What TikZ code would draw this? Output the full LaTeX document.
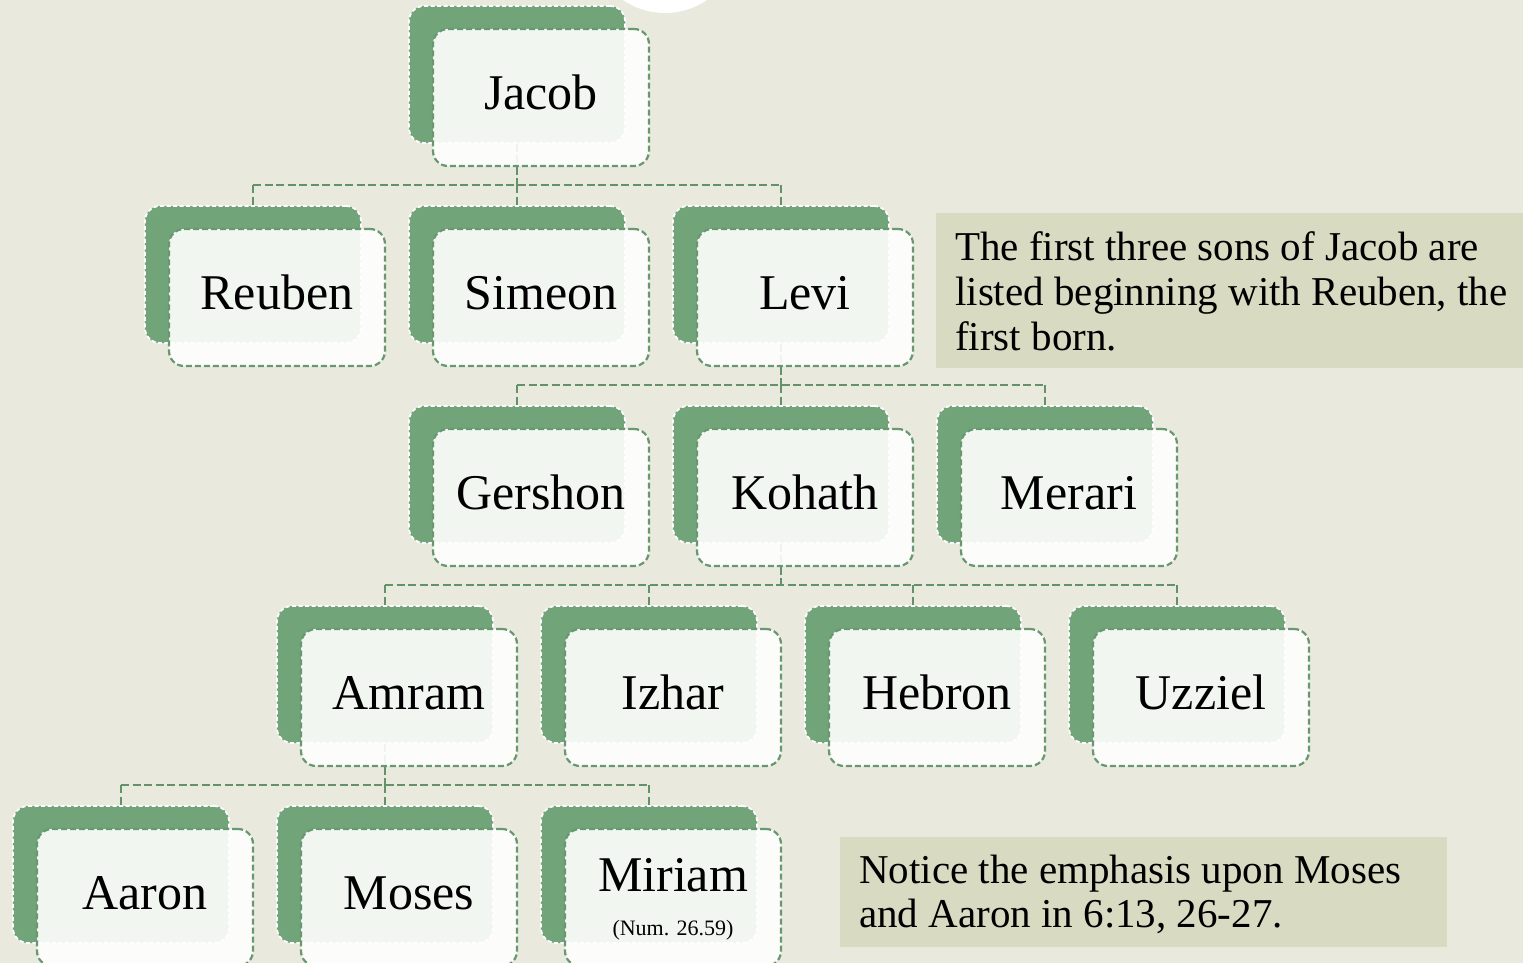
\documentclass[tikz,border=0pt]{standalone}
\usepackage{fontspec}
\setmainfont{Liberation Serif}
\pgfdeclarelayer{backlayer}
\pgfdeclarelayer{linklayer}
\pgfsetlayers{backlayer,linklayer,main}
\definecolor{bgc}{RGB}{233,233,222}
\definecolor{leaf}{RGB}{114,164,122}
\definecolor{edgec}{RGB}{104,152,112}
\definecolor{connc}{RGB}{98,145,106}
\definecolor{notec}{RGB}{216,219,194}
\newcommand\member[4]{%
  \node[backbox] (b#1) at (#2+108,#3+68.5) {};
  \node[frontbox] (#1) at (#2+132,#3+91.5) {#4};}
\begin{document}
\begin{tikzpicture}[x=1pt,y=-1pt,
  backbox/.style={draw=white, line width=1.8pt, dash pattern=on 4pt off 2.5pt,
    fill=leaf, rounded corners=15pt, minimum width=216pt, minimum height=137pt,
    inner sep=0pt},
  frontbox/.style={draw=edgec, line width=2.2pt, dash pattern=on 6pt off 3pt,
    fill=white, fill opacity=0.9, text opacity=1, rounded corners=15pt,
    minimum width=216pt, minimum height=137pt, inner sep=0pt,
    font=\fontsize{50}{60}\selectfont, text height=35pt, text depth=11pt},
  link/.style={draw=connc, line width=2.6pt, dash pattern=on 8pt off 3.5pt},
  notebox/.style={fill=notec, inner sep=0pt, anchor=north west},
  notetext/.style={font=\fontsize{41}{45}\selectfont, align=left, inner sep=0pt, anchor=west}]
\useasboundingbox (0,0) rectangle (1523,963);
\begin{pgfonlayer}{backlayer}
  \fill[bgc] (0,0) rectangle (1523,963);
  \begin{scope}
    \clip (0,0) rectangle (1523,963);
    \fill[white] (665,-61) circle[radius=74pt];
  \end{scope}
\end{pgfonlayer}

% row 1
\member{jacob}{409}{6}{Jacob}
% row 2
\member{reuben}{145}{206}{Reuben}
\member{simeon}{409}{206}{Simeon}
\member{levi}{673}{206}{Levi}
% row 3
\member{gershon}{409}{406}{Gershon}
\member{kohath}{673}{406}{Kohath}
\member{merari}{937}{406}{Merari}
% row 4
\member{amram}{277}{606}{Amram}
\member{izhar}{541}{606}{Izhar}
\member{hebron}{805}{606}{Hebron}
\member{uzziel}{1069}{606}{Uzziel}
% row 5
\member{aaron}{13}{806}{Aaron}
\member{moses}{277}{806}{Moses}
\member{miriam}{541}{806}{}
\node[font=\fontsize{50}{60}\selectfont, inner sep=0pt, anchor=base] (miriamname)
  at ([yshift=6.5pt]miriam.center) {Miriam};
\node[font=\fontsize{22}{26}\selectfont, inner sep=0pt, anchor=base] (miriamref)
  at ([yshift=-37.5pt]miriam.center) {(Num. 26.59)};

% connectors
\begin{pgfonlayer}{linklayer}
  \coordinate (bar2) at (0,185);
  \coordinate (bar3) at (0,385);
  \coordinate (bar4) at (0,585);
  \coordinate (bar5) at (0,785);
  \draw[link] (bjacob.south) -- (bjacob.south |- bar2);
  \draw[link] (bar2 -| breuben.north) -- (bar2 -| blevi.north);
  \foreach \c in {reuben,simeon,levi} \draw[link] (bar2 -| b\c.north) -- (b\c.north);
  \draw[link] (blevi.south) -- (blevi.south |- bar3);
  \draw[link] (bar3 -| bgershon.north) -- (bar3 -| bmerari.north);
  \foreach \c in {gershon,kohath,merari} \draw[link] (bar3 -| b\c.north) -- (b\c.north);
  \draw[link] (bkohath.south) -- (bkohath.south |- bar4);
  \draw[link] (bar4 -| bamram.north) -- (bar4 -| buzziel.north);
  \foreach \c in {amram,izhar,hebron,uzziel} \draw[link] (bar4 -| b\c.north) -- (b\c.north);
  \draw[link] (bamram.south) -- (bamram.south |- bar5);
  \draw[link] (bar5 -| baaron.north) -- (bar5 -| bmiriam.north);
  \foreach \c in {aaron,moses,miriam} \draw[link] (bar5 -| b\c.north) -- (b\c.north);
\end{pgfonlayer}

% notes
\node[notebox, minimum width=587pt, minimum height=155pt] (note1) at (936,213) {};
\node[notetext] (note1text) at (955,291)
  {The first three sons of Jacob are\\listed beginning with Reuben, the\\first born.};
\node[notebox, minimum width=607pt, minimum height=110pt] (note2) at (840,837) {};
\node[notetext, font=\fontsize{41}{44}\selectfont] (note2text) at (859,894)
  {Notice the emphasis upon Moses\\and Aaron in 6:13, 26-27.};
\end{tikzpicture}
\end{document}
